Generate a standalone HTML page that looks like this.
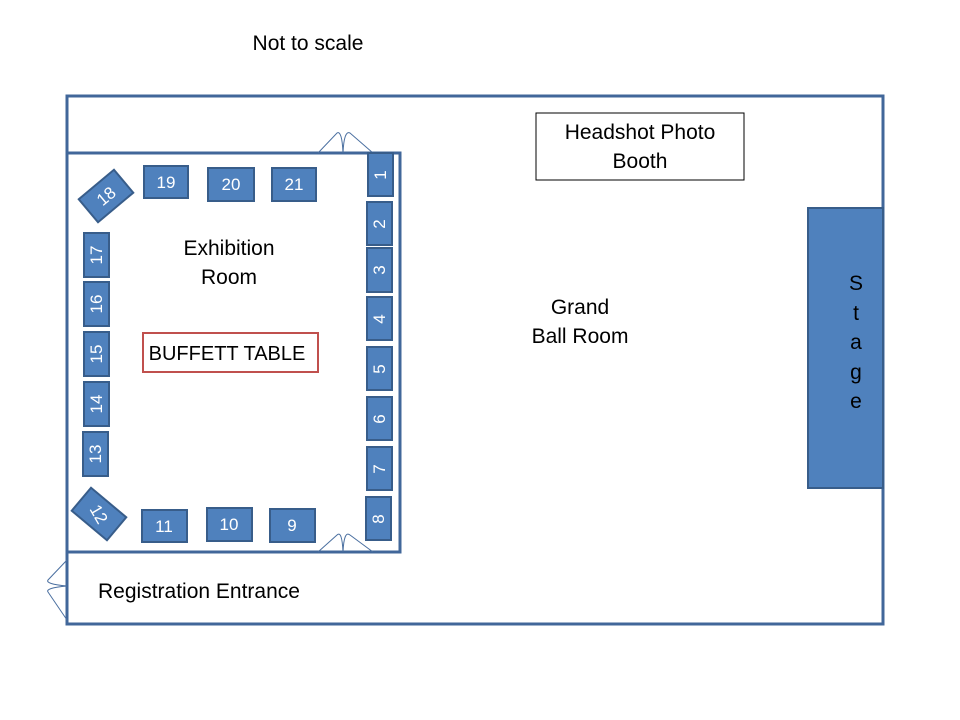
<!DOCTYPE html>
<html><head><style>body{margin:0;background:#fff}svg{display:block}text{font-family:"Liberation Sans",sans-serif}</style></head><body>
<svg width="960" height="720" viewBox="0 0 960 720">
<text x="308" y="50" font-size="21" text-anchor="middle" fill="#000">Not to scale</text>
<rect x="67" y="96" width="816" height="528" fill="none" stroke="#41679a" stroke-width="3"/>
<path d="M67 153 H400 V552 H67" fill="none" stroke="#41679a" stroke-width="3"/>
<g fill="none" stroke="#4a6fa0" stroke-width="1">
<path d="M318 153 L337 133 Q342 130 343 153 Q344 130 350 133 L373 153"/>
<path d="M318 552 L337 535 Q342 530 343 552 Q344 530 350 535 L373 552"/>
<path d="M67 560 L48 580 Q45 584 67 586 Q45 588 48 592 L67 620"/>
</g>
<rect x="536" y="113" width="208" height="67" fill="#fff" stroke="#000" stroke-width="1"/>
<text x="640" y="139" font-size="21" text-anchor="middle">Headshot Photo</text>
<text x="640" y="168" font-size="21" text-anchor="middle">Booth</text>
<rect x="808" y="208" width="75" height="280" fill="#4f81bd" stroke="#385d8a" stroke-width="2"/>
<g font-size="21" text-anchor="middle"><text x="856" y="290">S</text><text x="856" y="320">t</text><text x="856" y="349">a</text><text x="856" y="379">g</text><text x="856" y="408">e</text></g>
<text x="580" y="314" font-size="21" text-anchor="middle">Grand</text>
<text x="580" y="343" font-size="21" text-anchor="middle">Ball Room</text>
<text x="229" y="255" font-size="21" text-anchor="middle">Exhibition</text>
<text x="229" y="284" font-size="21" text-anchor="middle">Room</text>
<rect x="143" y="333" width="175" height="39" fill="#fff" stroke="#c0504d" stroke-width="2"/>
<text x="227" y="360" font-size="20" text-anchor="middle">BUFFETT TABLE</text>
<text x="199" y="598" font-size="21" text-anchor="middle">Registration Entrance</text>
<g fill="#4f81bd" stroke="#385d8a" stroke-width="2">
<rect x="144" y="166" width="44" height="32"/><rect x="208" y="168" width="46" height="33"/><rect x="272" y="168" width="44" height="33"/>
<rect x="142" y="510" width="45" height="32"/><rect x="207" y="508" width="45" height="33"/><rect x="270" y="509" width="45" height="33"/>
<rect x="368" y="153" width="25" height="43"/><rect x="367" y="202" width="25" height="43"/><rect x="367" y="248" width="25" height="44"/><rect x="367" y="297" width="25" height="43"/><rect x="367" y="347" width="25" height="43"/><rect x="367" y="397" width="25" height="43"/><rect x="367" y="447" width="25" height="43"/><rect x="366" y="497" width="25" height="43"/>
<rect x="84" y="233" width="25" height="44"/><rect x="84" y="282" width="25" height="44"/><rect x="84" y="332" width="25" height="44"/><rect x="84" y="382" width="25" height="44"/><rect x="83" y="432" width="25" height="44"/>
<rect x="83" y="181" width="46" height="30" transform="rotate(-40 106 196)"/>
<rect x="76" y="499" width="46" height="30" transform="rotate(40 99 514)"/>
</g>
<g fill="#fff" font-size="17" text-anchor="middle">
<text x="166" y="188">19</text><text x="231" y="190">20</text><text x="294" y="190">21</text>
<text x="164" y="532">11</text><text x="229" y="530">10</text><text x="292" y="531">9</text>
<text transform="translate(386 175) rotate(-90)">1</text>
<text transform="translate(385 224) rotate(-90)">2</text>
<text transform="translate(385 270) rotate(-90)">3</text>
<text transform="translate(385 319) rotate(-90)">4</text>
<text transform="translate(385 369) rotate(-90)">5</text>
<text transform="translate(385 419) rotate(-90)">6</text>
<text transform="translate(385 469) rotate(-90)">7</text>
<text transform="translate(384 519) rotate(-90)">8</text>
<text transform="translate(102 255) rotate(-90)">17</text>
<text transform="translate(102 304) rotate(-90)">16</text>
<text transform="translate(102 354) rotate(-90)">15</text>
<text transform="translate(102 404) rotate(-90)">14</text>
<text transform="translate(101 454) rotate(-90)">13</text>
<text transform="translate(106 196) rotate(-40) translate(0 6)">18</text>
<text transform="translate(99 514) rotate(60) translate(0 6)">12</text>
</g>
</svg>
</body></html>
